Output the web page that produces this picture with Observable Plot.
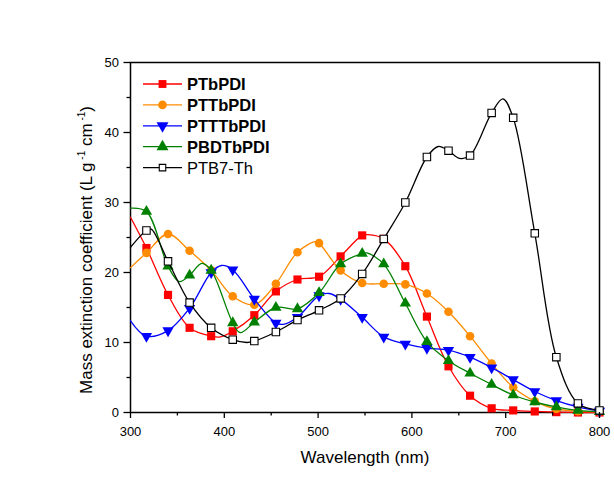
<!DOCTYPE html>
<html><head><meta charset="utf-8">
<script src="https://cdn.jsdelivr.net/npm/d3@7"></script>
<script src="https://cdn.jsdelivr.net/npm/@observablehq/plot@0.6"></script>
<style>
body{margin:0;background:#fff;font-family:"Liberation Sans",Arial,sans-serif}
#chart{position:relative;width:614px;height:488px}
</style>
</head><body><div id="chart"></div>
<script>
// wavelengths of the plotted symbols (nm)
const markerWl = [317,340,363,386,409,432,455,478,501,524,547,570,593,616,639,662,685,708,731,754,777,800];
const seriesNames = ["PTbPDI","PTTbPDI","PTTTbPDI","PBDTbPDI","PTB7-Th"];
const seriesColors = ["#ff0000","#ff8c00","#0000ff","#008000","#000000"];
const seriesSymbols = ["square","circle","triangle","triangle","square"];

// mass extinction coefficient at the symbols
const ptbpdi   = [23.5,16.8,12.1,10.9,11.6,13.9,17.3,19.0,19.4,22.3,25.3,24.8,20.9,13.7,6.6,2.4,0.6,0.3,0.15,0.05,0,0];
const pttbpdi  = [22.8,25.5,23.1,20.3,16.6,15.4,18.4,22.9,24.2,20.3,18.5,18.4,18.3,17.0,14.4,10.9,7.0,3.6,1.6,0.5,0.2,0.1];
const ptttbpdi = [10.9,11.7,14.9,20.0,20.4,16.2,12.8,13.6,16.7,16.2,13.6,10.8,9.8,9.2,8.9,7.9,6.4,4.7,3.0,1.7,0.8,0.2];
const pbdtbpdi = [28.7,20.9,19.6,20.3,12.8,12.9,15.0,14.8,17.1,21.2,22.7,21.2,15.6,10.1,7.4,5.6,4.0,2.5,1.5,0.8,0.3,0.1];
const ptb7th   = [26.0,21.6,15.7,12.1,10.4,10.2,11.5,13.2,14.6,16.3,19.8,24.8,30.0,36.5,37.4,36.7,42.8,42.1,25.6,7.9,1.3,0.3];

// extra points of the continuous curves (start at 300 nm, peaks, dips)
const ptbpdiExtra   = [[300,27.9],[396,10.8],[553,25.4]];
const pttbpdiExtra  = [[300,20.7],[497,24.4]];
const ptttbpdiExtra = [[300,13.1],[397,21.0],[463,12.6],[512,17.0]];
const pbdtbpdiExtra = [[300,29.2],[352,18.7],[376,21.3],[417,11.4],[552,22.8]];
const ptb7thExtra   = [[300,23.6],[322,26.2],[424,10.0],[628,38.0],[651,36.3],[697,44.8]];

const yTicks = [0,10,20,30,40,50];
const yMinor = [5,15,25,35,45];
const xTicks = [300,400,500,600,700,800];
const xMinor = [350,450,550,650,750];

const seriesVals = [ptbpdi, pttbpdi, ptttbpdi, pbdtbpdi, ptb7th];
const seriesExtra = [ptbpdiExtra, pttbpdiExtra, ptttbpdiExtra, pbdtbpdiExtra, ptb7thExtra];

const markers = [], lines = [];
seriesNames.forEach((name, i) => {
  const m = markerWl.map((w, j) => ({series: name, wl: w, v: seriesVals[i][j]}));
  markers.push(...m);
  const l = m.concat(seriesExtra[i].map(([w, v]) => ({series: name, wl: w, v})));
  l.sort((a, b) => a.wl - b.wl);
  lines.push(...l);
});

const marks = [];
seriesNames.forEach((name, i) => {
  marks.push(Plot.line(lines.filter(d => d.series === name), {
    x: "wl", y: "v", stroke: seriesColors[i], strokeWidth: 1.3, curve: "catmull-rom"
  }));
  const md = markers.filter(d => d.series === name);
  const opts = {x: "wl", y: "v", symbol: seriesSymbols[i]};
  if (name === "PTB7-Th") {
    marks.push(Plot.dot(md, {...opts, r: 4.2, fill: "white", stroke: "black", strokeWidth: 1.1}));
  } else if (seriesSymbols[i] === "square") {
    marks.push(Plot.dot(md, {...opts, r: 4.6, fill: seriesColors[i], stroke: "none"}));
  } else if (seriesSymbols[i] === "circle") {
    marks.push(Plot.dot(md, {...opts, r: 4.3, fill: seriesColors[i], stroke: "none"}));
  } else {
    marks.push(Plot.dot(md, {...opts, r: 4.2, fill: seriesColors[i], stroke: "none", rotate: name === "PTTTbPDI" ? 180 : 0}));
  }
});

const chart = Plot.plot({
  width: 614, height: 488,
  marginLeft: 130, marginRight: 15, marginTop: 62, marginBottom: 76,
  style: {fontFamily: '"Liberation Sans", Arial, sans-serif', fontSize: "13px", background: "white", color: "black"},
  x: {domain: [300, 800]},
  y: {domain: [0, 50]},
  marks: [
    Plot.frame({stroke: "black", strokeWidth: 1.5}),
    ...marks,
    Plot.axisX({ticks: xTicks, tickSize: 6, tickPadding: 8, label: null, stroke: "black", strokeWidth: 1.3, fontSize: 13}),
    Plot.axisX({ticks: xMinor, tickSize: 3.5, text: null, label: null, stroke: "black", strokeWidth: 1.3}),
    Plot.axisY({ticks: yTicks, tickSize: 6.5, tickPadding: 5, label: null, stroke: "black", strokeWidth: 1.3, fontSize: 13}),
    Plot.axisY({ticks: yMinor, tickSize: 3.5, text: null, label: null, stroke: "black", strokeWidth: 1.3})
  ]
});
document.getElementById("chart").appendChild(chart);

const svg = d3.select(chart);
// axis titles
svg.append("text").attr("x", 365).attr("y", 463).attr("text-anchor", "middle")
  .attr("font-size", 17).attr("fill", "black").text("Wavelength (nm)");
const yl = svg.append("text").attr("transform", "translate(92,250) rotate(-90)")
  .attr("text-anchor", "middle").attr("font-size", 17).attr("fill", "black");
yl.append("tspan").text("Mass extinction coefficient (L g");
yl.append("tspan").attr("font-size", 10).attr("dy", -7).text(" -1");
yl.append("tspan").attr("dy", 7).text(" cm");
yl.append("tspan").attr("font-size", 10).attr("dy", -7).text(" -1");
yl.append("tspan").attr("dy", 7).text(")");

// legend
const lg = svg.append("g").attr("text-anchor", "start");
const sym = {square: d3.symbolSquare, circle: d3.symbolCircle, triangle: d3.symbolTriangle};
seriesNames.forEach((name, i) => {
  const y = 84 + i * 20.9;
  lg.append("line").attr("x1", 143).attr("x2", 182).attr("y1", y).attr("y2", y)
    .attr("stroke", seriesColors[i]).attr("stroke-width", 1.3);
  const p = lg.append("path").attr("transform", `translate(162.5,${y})` + (name === "PTTTbPDI" ? " rotate(180)" : ""));
  if (name === "PTB7-Th") {
    p.attr("d", d3.symbol(d3.symbolSquare, 42)()).attr("fill", "white").attr("stroke", "black").attr("stroke-width", 1.1);
  } else {
    p.attr("d", d3.symbol(sym[seriesSymbols[i]], seriesSymbols[i] === "circle" ? 58 : 62)()).attr("fill", seriesColors[i]);
  }
  lg.append("text").attr("x", 187).attr("y", y).attr("dy", "0.36em").attr("text-anchor", "start")
    .attr("font-size", 16.5).attr("font-weight", name === "PTB7-Th" ? "normal" : "bold")
    .attr("fill", "black").text(name);
});
</script>
</body></html>
